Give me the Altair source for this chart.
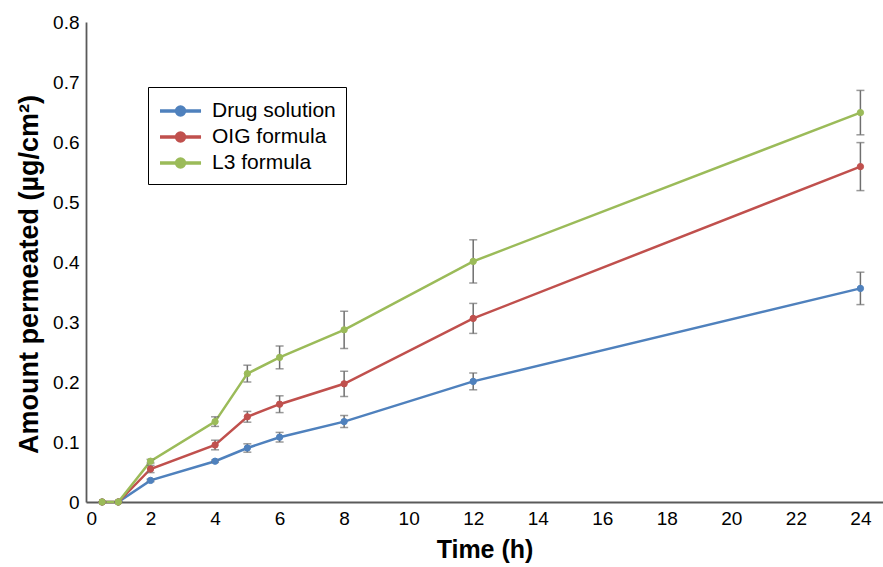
import altair as alt
import pandas as pd

time_h = [0.5, 1, 2, 4, 5, 6, 8, 12, 24]
series_names = ["Drug solution", "OIG formula", "L3 formula"]
series_colors = ["#4F81BD", "#C0504D", "#9BBB59"]

drug = [0, 0, 0.036, 0.068, 0.090, 0.108, 0.134, 0.201, 0.356]
drug_err = [0, 0, 0.002, 0.002, 0.007, 0.008, 0.010, 0.014, 0.027]
oig = [0, 0, 0.055, 0.095, 0.142, 0.163, 0.197, 0.306, 0.559]
oig_err = [0, 0, 0.006, 0.008, 0.009, 0.014, 0.021, 0.025, 0.040]
l3 = [0, 0, 0.068, 0.134, 0.214, 0.241, 0.287, 0.401, 0.649]
l3_err = [0, 0, 0.003, 0.008, 0.014, 0.019, 0.031, 0.036, 0.037]

x_ticks = list(range(0, 25, 2))
y_ticks = [0, 0.1, 0.2, 0.3, 0.4, 0.5, 0.6, 0.7, 0.8]

rows = []
for k, (name, vals, errs) in enumerate(zip(series_names, [drug, oig, l3], [drug_err, oig_err, l3_err])):
    for t, v, e in zip(time_h, vals, errs):
        rows.append(dict(series=name, k=k, time=t, value=v, lo=v - e, hi=v + e))
df = pd.DataFrame(rows)

FONT = "Arial, Liberation Sans, Helvetica, sans-serif"

x_enc = alt.X("time:Q", scale=alt.Scale(domain=[0, 24.7], nice=False, zero=False),
              axis=alt.Axis(values=x_ticks, title="Time (h)", format="d",
                            titleFontSize=25, labelPadding=7, titlePadding=9))
y_enc = alt.Y("value:Q", scale=alt.Scale(domain=[0, 0.8], nice=False),
              axis=alt.Axis(values=y_ticks, title="Amount permeated (µg/cm²)", format="~g",
                            titleFontSize=27, labelPadding=7, titlePadding=9, titleY=252))

legend = alt.Legend(
    title=None, orient="none", legendX=62, legendY=65,
    symbolType="M-1,0H2.42M0.38,0A0.33,0.33,0,1,1,1.04,0A0.33,0.33,0,1,1,0.38,0Z",
    symbolSize=576, symbolStrokeWidth=3.5,
    labelFont=FONT, labelFontSize=21, labelColor="black", labelOffset=26,
    rowPadding=1, padding=10, strokeColor="black", fillColor="white", cornerRadius=0,
    labelLimit=300,
)
cscale = alt.Scale(domain=series_names, range=series_colors)

lines = alt.Chart(df).mark_line(strokeWidth=2.5).encode(
    x=x_enc, y=y_enc,
    stroke=alt.Stroke("series:N", scale=cscale, legend=legend),
    order=alt.Order("time:Q"),
)

err_rule = alt.Chart(df).mark_rule(color="#6f6f6f", strokeWidth=1.5).encode(
    x="time:Q", y="lo:Q", y2="hi:Q"
)
cap_lo = alt.Chart(df).mark_tick(color="#6f6f6f", orient="horizontal", size=8, thickness=1.5).encode(
    x="time:Q", y="lo:Q"
)
cap_hi = alt.Chart(df).mark_tick(color="#6f6f6f", orient="horizontal", size=8, thickness=1.5).encode(
    x="time:Q", y="hi:Q"
)

points = alt.Chart(df).mark_point(filled=True, size=40, opacity=1, strokeWidth=1).encode(
    x=x_enc, y=y_enc,
    fill=alt.Fill("series:N", scale=cscale, legend=legend),
    stroke=alt.Stroke("series:N", scale=cscale, legend=legend),
    order=alt.Order("k:Q"),
)

chart = alt.layer(lines, err_rule, cap_lo, cap_hi, points).properties(
    width=797, height=480,
    background="white",
    autosize=alt.AutoSizeParams(type="none"),
    padding={"left": 86, "top": 22, "right": 0, "bottom": 65},
).configure_view(stroke=None).configure_axis(
    grid=False, ticks=False, domainColor="#5a5a5a", domainWidth=1.8,
    labelFont=FONT, labelFontSize=19, labelColor="black",
    titleFont=FONT, titleFontWeight="bold", titleColor="black",
)

chart.save("out.html", embed_options={"renderer": "svg", "actions": False})
